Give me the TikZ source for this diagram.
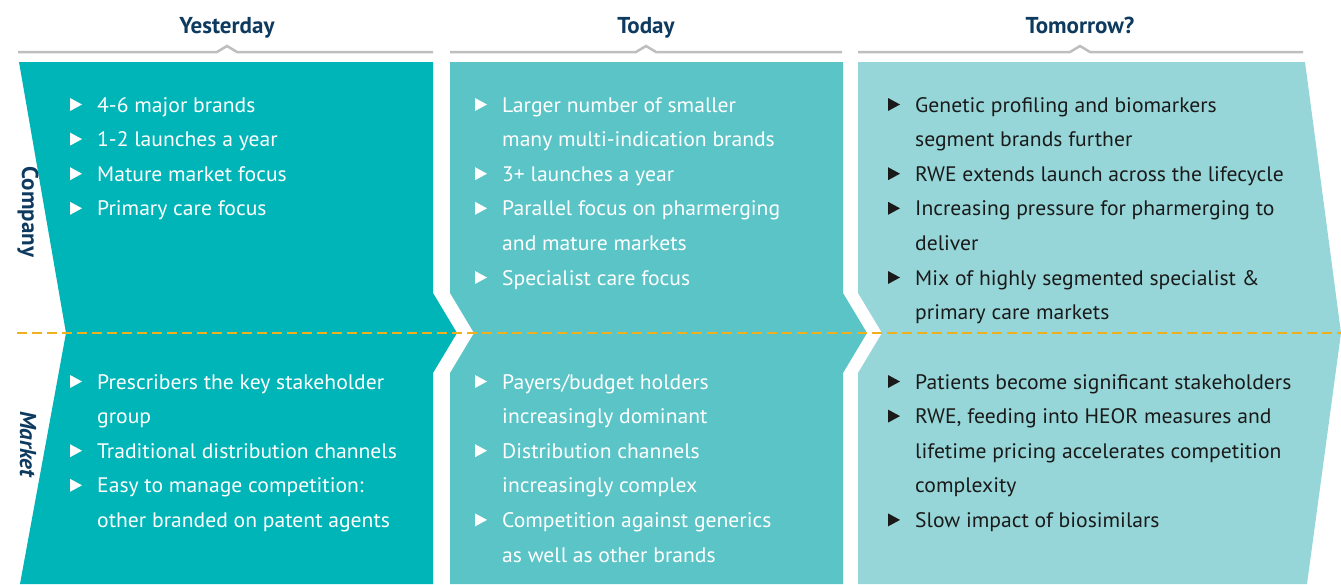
\documentclass[tikz,border=0pt]{standalone}
\usepackage{fontspec}
\setmainfont{PT Sans}
\newfontfamily\bodyfont[FakeStretch=1.03]{PT Sans}
\definecolor{tealA}{RGB}{0,181,184}
\definecolor{tealB}{RGB}{91,196,199}
\definecolor{tealC}{RGB}{150,214,216}
\definecolor{navy}{RGB}{14,58,95}
\definecolor{rulegray}{RGB}{190,190,190}
\definecolor{dashorange}{RGB}{240,176,30}
\definecolor{inkdark}{RGB}{26,26,26}
% baselines of the text rows in the upper (company) and lower (market) bands
\newcommand\rowC[1]{112+34.6*#1}
\newcommand\rowM[1]{389+34.6*#1}
% bullet item: name, bullet x, baseline, colour, text
\newcommand\bitem[5]{%
  \fill[#4] (#2,#3-14) -- (#2+12,#3-7.5) -- (#2,#3-1) -- cycle;
  \node[itemtext,text=#4] (#1) at (#2+27,#3) {#5};}
% continuation line of an item
\newcommand\citem[5]{%
  \node[itemtext,text=#4] (#1) at (#2+27,#3) {#5};}
\begin{document}
\begin{tikzpicture}[x=1pt,y=-1pt,
  itemtext/.style={anchor=base west,inner sep=0pt,font=\bodyfont\fontsize{21}{24}\selectfont},
  header/.style={anchor=base,inner sep=0pt,text=navy,font=\fontsize{23}{26}\selectfont\bfseries},
  sidelabel/.style={inner sep=0pt,text=navy,rotate=-90,font=\fontsize{23}{26}\selectfont\bfseries},
  headrule/.style={draw=rulegray,line width=2.5pt,line join=miter}]
\useasboundingbox (0,0) rectangle (1341,584);

% column headings
\node[header] (yesterday) at (227,33) {Yesterday};
\node[header] (today) at (646,33) {Today};
\node[header] (tomorrow) at (1080,33) {Tomorrow?};

% heading rules with a small peak under each title
\draw[headrule] (18,52) -- (217,52) -- (227,46) -- (237,52) -- (433,52);
\draw[headrule] (450,52) -- (636,52) -- (646,46) -- (656,52) -- (842,52);
\draw[headrule] (858,52) -- (1070,52) -- (1080,46) -- (1090,52) -- (1303,52);

% chevron panels
\fill[tealA] (19,62) -- (433,62) -- (433,293) -- (457,333) -- (433,373) -- (433,584)
  -- (20,584) -- (66,333) -- cycle;
\fill[tealB] (450,62) -- (843,62) -- (843,293) -- (867,333) -- (843,373) -- (843,584)
  -- (450,584) -- (450,373) -- (474,333) -- (450,293) -- cycle;
\fill[tealC] (858,62) -- (1305,62) -- (1341,333) -- (1307,584) -- (858,584)
  -- (858,373) -- (882,333) -- (858,293) -- cycle;

% divider between the two bands
\draw[dashorange,line width=2pt,dash pattern=on 10pt off 5pt] (17,333) -- (1341,333);

% band labels
\node[sidelabel] (company) at (28,212) {Company};
\node[sidelabel,font=\fontsize{23}{26}\selectfont\bfseries\itshape] (market) at (28,444) {Market};

% Yesterday
\bitem{y1}{70}{\rowC{0}}{white}{4-6 major brands}
\bitem{y2}{70}{\rowC{1}}{white}{1-2 launches a year}
\bitem{y3}{70}{\rowC{2}}{white}{Mature market focus}
\bitem{y4}{70}{\rowC{3}}{white}{Primary care focus}
\bitem{y5}{70}{\rowM{0}}{white}{Prescribers the key stakeholder}
\citem{y6}{70}{\rowM{1}}{white}{group}
\bitem{y7}{70}{\rowM{2}}{white}{Traditional distribution channels}
\bitem{y8}{70}{\rowM{3}}{white}{Easy to manage competition:}
\citem{y9}{70}{\rowM{4}}{white}{other branded on patent agents}

% Today
\bitem{t1}{475}{\rowC{0}}{white}{Larger number of smaller}
\citem{t2}{475}{\rowC{1}}{white}{many multi-indication brands}
\bitem{t3}{475}{\rowC{2}}{white}{3+ launches a year}
\bitem{t4}{475}{\rowC{3}}{white}{Parallel focus on pharmerging}
\citem{t5}{475}{\rowC{4}}{white}{and mature markets}
\bitem{t6}{475}{\rowC{5}}{white}{Specialist care focus}
\bitem{t7}{475}{\rowM{0}}{white}{Payers/budget holders}
\citem{t8}{475}{\rowM{1}}{white}{increasingly dominant}
\bitem{t9}{475}{\rowM{2}}{white}{Distribution channels}
\citem{t10}{475}{\rowM{3}}{white}{increasingly complex}
\bitem{t11}{475}{\rowM{4}}{white}{Competition against generics}
\citem{t12}{475}{\rowM{5}}{white}{as well as other brands}

% Tomorrow?
\bitem{m1}{888}{\rowC{0}}{inkdark}{Genetic profiling and biomarkers}
\citem{m2}{888}{\rowC{1}}{inkdark}{segment brands further}
\bitem{m3}{888}{\rowC{2}}{inkdark}{RWE extends launch across the lifecycle}
\bitem{m4}{888}{\rowC{3}}{inkdark}{Increasing pressure for pharmerging to}
\citem{m5}{888}{\rowC{4}}{inkdark}{deliver}
\bitem{m6}{888}{\rowC{5}}{inkdark}{Mix of highly segmented specialist \&}
\citem{m7}{888}{\rowC{6}}{inkdark}{primary care markets}
\bitem{m8}{888}{\rowM{0}}{inkdark}{Patients become significant stakeholders}
\bitem{m9}{888}{\rowM{1}}{inkdark}{RWE, feeding into HEOR measures and}
\citem{m10}{888}{\rowM{2}}{inkdark}{lifetime pricing accelerates competition}
\citem{m11}{888}{\rowM{3}}{inkdark}{complexity}
\bitem{m12}{888}{\rowM{4}}{inkdark}{Slow impact of biosimilars}
\end{tikzpicture}
\end{document}
